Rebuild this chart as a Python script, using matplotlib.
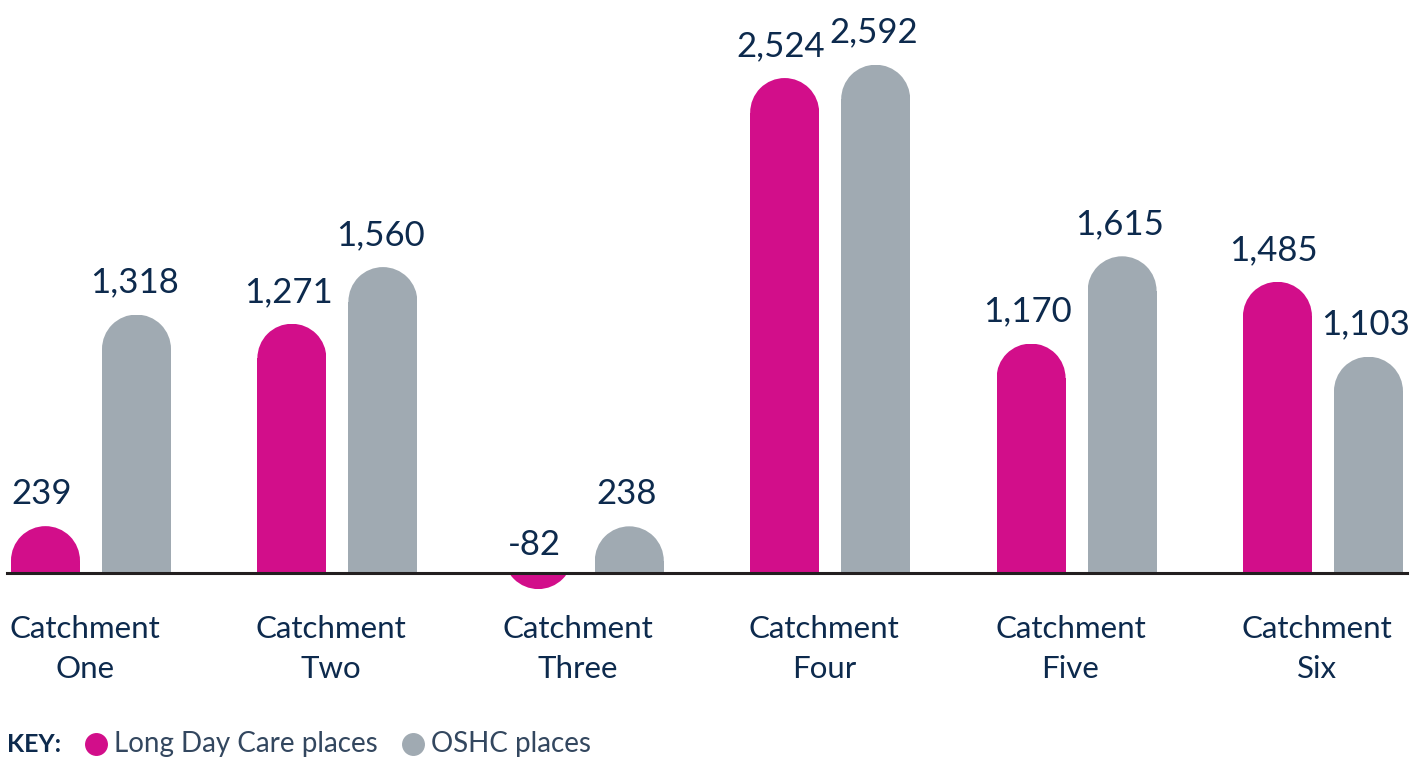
import matplotlib
matplotlib.use("Agg")
import matplotlib.pyplot as plt
from matplotlib.patches import Rectangle, Ellipse

# data
catchments = ["Catchment\nOne", "Catchment\nTwo", "Catchment\nThree",
              "Catchment\nFour", "Catchment\nFive", "Catchment\nSix"]
long_day_care = [239, 1271, -82, 2524, 1170, 1485]
oshc = [1318, 1560, 238, 2592, 1615, 1103]

pink = "#D20E8A"
grey = "#A0AAB2"
navy = "#0D2A4D"

plt.rcParams["font.family"] = ["Lato", "DejaVu Sans"]

fig = plt.figure(figsize=(14.23, 7.6), dpi=100)
ax = fig.add_axes([0, 0, 1, 1])
ax.set_xlim(-0.3693, 5.406)
ax.set_ylim(-953.6, 2922)
ax.axis("off")

bar_w = 0.28
offset = 0.1847
# cap radius: half the bar width in pixels, turned into y units
px_per_x = 1423 / (5.406 + 0.3693)
px_per_y = 760 / (2922 + 953.6)
cap_ry = (bar_w / 2) * px_per_x / px_per_y


def rounded_bar(x, value, color):
    sign = 1 if value >= 0 else -1
    clip = Rectangle((x - bar_w / 2, min(0, value)), bar_w, abs(value),
                     transform=ax.transData, facecolor="none", edgecolor="none")
    ax.add_patch(clip)
    centre = value - sign * cap_ry
    rect = Rectangle((x - bar_w / 2, 0), bar_w, centre, facecolor=color,
                     edgecolor="none", zorder=2)
    ell = Ellipse((x, centre), bar_w, 2 * cap_ry, facecolor=color,
                  edgecolor="none", zorder=2)
    for p in (rect, ell):
        ax.add_patch(p)
        p.set_clip_path(clip)


def value_label(x, value):
    if value >= 0:
        y = value + 22 / px_per_y
    else:
        y = 18 / px_per_y
    ax.text(x, y, f"{value:,}", ha="center", va="baseline", fontsize=25,
            color=navy)


for i in range(len(catchments)):
    rounded_bar(i - offset, long_day_care[i], pink)
    rounded_bar(i + offset, oshc[i], grey)
    value_label(i - offset - 0.015, long_day_care[i])
    value_label(i + offset - 0.01, oshc[i])
    ax.text(i - 0.025, -215, catchments[i], ha="center", va="top", fontsize=22.5,
            color=navy, linespacing=1.5)

# baseline
ax.axhline(0, xmin=0.005, xmax=0.989, color="#231F20", lw=2.2, zorder=3)

# key
fig.text(0.005, 0.021, "KEY:", fontsize=18, fontweight="bold", color=navy,
         va="center")
ax.scatter([0.0675], [0.021], s=240, color=pink, transform=fig.transFigure,
           clip_on=False)
fig.text(0.080, 0.021, "Long Day Care places", fontsize=20,
         color="#33475F", va="center")
ax.scatter([0.290], [0.021], s=240, color=grey, transform=fig.transFigure,
           clip_on=False)
fig.text(0.303, 0.021, "OSHC places", fontsize=20,
         color="#33475F", va="center")

fig.savefig("out.png", dpi=100)
